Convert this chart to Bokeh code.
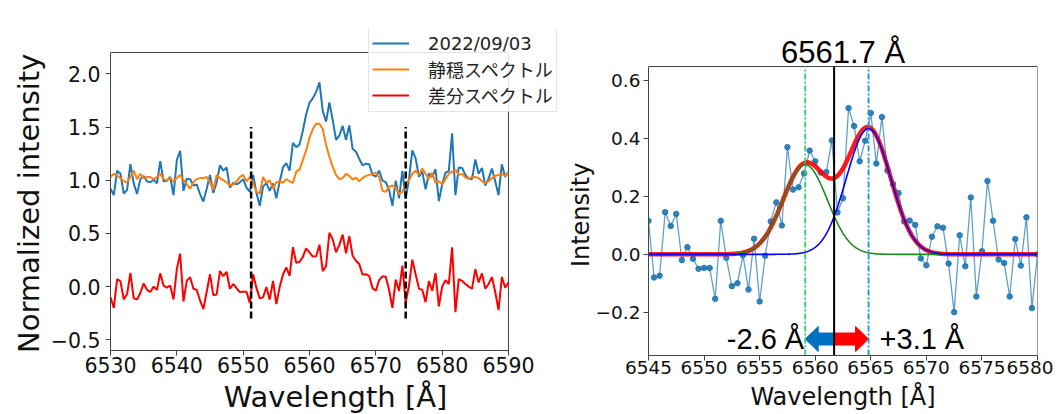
import numpy as np
from bokeh.plotting import figure
from bokeh.models import (Range1d, FixedTicker, Legend, LegendItem, Label)
from bokeh.layouts import row
from bokeh.embed import file_html
from bokeh.resources import INLINE

# ---------------- data ----------------
wl_start, wl_step = 6530.0, 0.5

observed = [
    0.92, 0.86, 1.09, 1.06, 0.875, 0.91, 1.15, 0.97, 0.87, 1.01,
    1.04, 0.99, 0.98, 1.005, 0.97, 1.18, 0.99, 0.995, 1.03, 0.86,
    1.19, 1.275, 0.90, 1.015, 1.01, 0.95, 0.96, 0.87, 0.80, 0.92,
    1.05, 0.88, 0.98, 1.14, 1.09, 1.12, 0.93, 0.975, 0.96, 0.98,
    1.01, 0.93, 0.89, 1.05, 0.88, 0.76, 0.94, 0.975, 0.90, 0.97,
    0.83, 0.985, 1.12, 1.16, 1.09, 1.35, 1.31, 1.335, 1.465, 1.62,
    1.73, 1.77, 1.83, 1.92, 1.65, 1.55, 1.73, 1.565, 1.38, 1.42,
    1.51, 1.38, 1.515, 1.295, 1.268, 1.20, 1.14, 1.155, 1.15, 1.05,
    1.035, 1.09, 0.997, 0.982, 0.908, 0.76, 0.996, 0.83, 1.087, 0.824,
    1.011, 1.28, 1.206, 1.032, 1.08, 0.914, 1.063, 1.031, 1.103, 0.804,
    0.96, 1.07, 1.085, 1.44, 0.86, 1.12, 1.115, 1.05, 1.015, 1.01,
    1.195, 1.06, 1.115, 0.95, 1.015, 1.11, 0.99, 0.86, 1.15, 1.03,
    1.08,
]

quiet = [
    1.03, 1.06, 1.04, 1.02, 0.99, 0.98, 1.03, 1.09, 1.01, 1.06,
    1.02, 1.03, 1.03, 1.01, 1.03, 1.06, 1.01, 1.00, 1.02, 0.99,
    1.02, 1.05, 1.00, 0.96, 0.92, 0.98, 1.01, 1.02, 1.02, 1.03,
    0.98, 0.91, 1.05, 1.02, 1.00, 0.98, 0.95, 0.96, 0.99, 1.03,
    1.05, 0.99, 1.03, 0.97, 0.89, 0.875, 1.03, 0.975, 1.00, 0.92,
    0.98, 0.99, 0.975, 1.01, 0.99, 0.975, 1.08, 1.10, 1.19, 1.28,
    1.40, 1.48, 1.53, 1.53, 1.48, 1.33, 1.22, 1.125, 1.05, 1.01,
    1.02, 1.06, 1.04, 1.005, 1.025, 0.99, 1.02, 1.04, 1.05, 1.06,
    1.07, 1.03, 0.90, 0.89, 0.94, 0.95, 0.93, 0.87, 0.89, 0.97,
    1.00, 1.06, 1.09, 1.05, 1.11, 1.06, 1.01, 1.07, 0.975, 0.99,
    0.96, 1.01, 1.06, 1.08, 1.10, 1.05, 1.06, 1.025, 1.015, 1.03,
    1.03, 1.02, 0.99, 0.97, 0.99, 1.02, 1.04, 1.05, 1.06, 1.04,
    1.07,
]

difference = [
    -0.10, -0.20, 0.07, 0.05, -0.12, -0.07, 0.13, -0.11, -0.12, -0.06,
    0.03, -0.03, -0.05, 0.00, -0.03, 0.125, 0.01, -0.01, 0.01, -0.12,
    0.165, 0.31, -0.14, 0.056, 0.09, -0.02, -0.03, -0.13, -0.21, -0.05,
    0.116, -0.08, -0.074, 0.146, 0.098, 0.14, -0.02, 0.025, -0.015, -0.05,
    -0.047, -0.047, -0.154, 0.116, -0.012, -0.11, -0.10, -0.003, -0.122, 0.054,
    -0.163, -0.005, 0.114, 0.18, 0.10, 0.371, 0.224, 0.232, 0.28, 0.359,
    0.322, 0.283, 0.285, 0.394, 0.145, 0.194, 0.506, 0.444, 0.322, 0.393,
    0.489, 0.314, 0.475, 0.29, 0.243, 0.212, 0.114, 0.117, 0.102, -0.014,
    -0.038, 0.061, 0.097, 0.092, -0.032, -0.20, 0.066, -0.041, 0.197, -0.146,
    0.011, 0.254, 0.116, -0.018, -0.03, -0.146, 0.053, -0.039, 0.128, -0.186,
    0.00, 0.06, 0.025, 0.37, -0.24, 0.07, 0.055, 0.025, 0.00, -0.02,
    0.165, 0.04, 0.125, -0.02, 0.025, 0.09, -0.05, -0.22, 0.09, -0.01,
    0.04,
]

wavelength = wl_start + wl_step * np.arange(len(difference))

series_labels = ["2022/09/03", "静穏スペクトル", "差分スペクトル"]

left_x_limits = (6530, 6590)
left_y_limits = (-0.6, 2.2)
left_x_ticks = [6530, 6540, 6550, 6560, 6570, 6580, 6590]
left_y_ticks = [-0.5, 0.0, 0.5, 1.0, 1.5, 2.0]
left_y_tick_labels = ["−0.5", "0.0", "0.5", "1.0", "1.5", "2.0"]
window_edges = [6551.2, 6574.5]
window_low, window_high = -0.3, 1.5

rest_wavelength = 6561.7
component_shift = [-2.6, 3.1]      # Å, relative to rest wavelength
component_amp = [0.31, 0.435]
component_sigma = [2.0, 2.0]
shift_labels = ["-2.6 Å", "+3.1 Å"]
title_text = "6561.7 Å"

right_x_limits = (6545, 6580)
right_y_limits = (-0.35, 0.65)
right_x_ticks = [6545, 6550, 6555, 6560, 6565, 6570, 6575, 6580]
right_y_ticks = [-0.2, 0.0, 0.2, 0.4, 0.6]
right_y_tick_labels = ["−0.2", "0.0", "0.2", "0.4", "0.6"]

# ---------------- style helpers ----------------
TICK_FONT = "DejaVu Sans"
LABEL_FONT = "DejaVu Sans"
LEGEND_FONT = "DejaVu Sans, Noto Sans CJK JP"
FRAME = "#444444"
NBSP = "\u00a0"


def style(p, tick_size, label_size, xstand, ystand, xl_stand, yl_stand):
    p.xgrid.visible = False
    p.ygrid.visible = False
    p.outline_line_color = None
    for ax in (p.xaxis[0], p.yaxis[0]):
        ax.axis_line_color = FRAME
        ax.major_tick_line_color = FRAME
        ax.major_tick_in = 0
        ax.major_tick_out = 5
        ax.minor_tick_in = 0
        ax.minor_tick_out = 0
        ax.major_label_text_font = TICK_FONT
        ax.major_label_text_font_size = tick_size
        ax.major_label_text_color = "#111111"
        ax.axis_label_text_font = LABEL_FONT
        ax.axis_label_text_font_size = label_size
        ax.axis_label_text_font_style = "normal"
        ax.axis_label_text_color = "#111111"
    p.xaxis[0].major_label_standoff = xstand
    p.yaxis[0].major_label_standoff = ystand
    p.xaxis[0].axis_label_standoff = xl_stand
    p.yaxis[0].axis_label_standoff = yl_stand


def spines(p, xlim, ylim):
    # top and right edges of the box (left/bottom are the axis lines)
    p.segment(x0=[xlim[0], xlim[1]], y0=[ylim[1], ylim[0]],
              x1=[xlim[1], xlim[1]], y1=[ylim[1], ylim[1]],
              line_color=FRAME, line_width=1)


# ---------------- left panel ----------------
# the plotting frame reaches above/right of the drawn box so the legend can overlap its corner
L_PX_X = 398 / (left_x_limits[1] - left_x_limits[0])
L_PX_Y = 298 / (left_y_limits[1] - left_y_limits[0])
p1 = figure(frame_width=450, frame_height=322,
            x_range=Range1d(left_x_limits[0], left_x_limits[0] + 450 / L_PX_X),
            y_range=Range1d(left_y_limits[0], left_y_limits[0] + 322 / L_PX_Y),
            output_backend="svg", toolbar_location=None,
            min_border_left=110, min_border_right=2, min_border_top=28, min_border_bottom=64)
style(p1, "20.5px", "29px", 1, 5, 4, 2)
p1.xaxis[0].ticker = FixedTicker(ticks=left_x_ticks)
p1.yaxis[0].ticker = FixedTicker(ticks=left_y_ticks)
p1.xaxis[0].bounds = left_x_limits
p1.yaxis[0].bounds = left_y_limits
p1.yaxis[0].major_label_overrides = dict(zip(left_y_ticks, left_y_tick_labels))
p1.xaxis[0].axis_label = "Wavelength [Å]"
p1.yaxis[0].axis_label = "Normalized intensity" + NBSP * 3
spines(p1, left_x_limits, left_y_limits)

r_obs = p1.line(wavelength, observed, line_color="#1f77b4", line_width=2)
r_quiet = p1.line(wavelength, quiet, line_color="#ff7f0e", line_width=2)
r_diff = p1.line(wavelength, difference, line_color="#ff0000", line_width=2)
p1.segment(x0=window_edges, y0=[window_low] * 2, x1=window_edges, y1=[window_high] * 2,
           line_color="black", line_width=2.5, line_dash="7 3")

legend = Legend(items=[LegendItem(label=series_labels[0], renderers=[r_obs]),
                       LegendItem(label=series_labels[1], renderers=[r_quiet]),
                       LegendItem(label=series_labels[2], renderers=[r_diff])],
                location=(258, 238))
legend.label_text_font = LEGEND_FONT
legend.label_text_font_size = "18px"
legend.label_text_color = "#222222"
legend.glyph_width = 37
legend.glyph_height = 26
legend.label_height = 26
legend.label_standoff = 19
legend.padding = 3
legend.spacing = 0
legend.margin = 0
legend.border_line_color = "#cccccc"
legend.border_line_width = 1
legend.background_fill_alpha = 0.85
p1.add_layout(legend)

# ---------------- right panel ----------------
R_PX_X = 389 / (right_x_limits[1] - right_x_limits[0])
R_PX_Y = 289 / (right_y_limits[1] - right_y_limits[0])
p2 = figure(frame_width=389, frame_height=327,
            x_range=Range1d(*right_x_limits),
            y_range=Range1d(right_y_limits[0], right_y_limits[0] + 327 / R_PX_Y),
            output_backend="svg", toolbar_location=None,
            min_border_left=86, min_border_right=16, min_border_top=28, min_border_bottom=59)
style(p2, "18.5px", "24px", 0, 3, 6, -2)
p2.xaxis[0].ticker = FixedTicker(ticks=right_x_ticks)
p2.yaxis[0].ticker = FixedTicker(ticks=right_y_ticks)
p2.xaxis[0].bounds = right_x_limits
p2.yaxis[0].bounds = right_y_limits
p2.yaxis[0].major_label_overrides = dict(zip(right_y_ticks, right_y_tick_labels))
p2.xaxis[0].axis_label = "Wavelength [Å]"
p2.yaxis[0].axis_label = "Intensity" + NBSP * 6
spines(p2, right_x_limits, right_y_limits)

# title over the box
p2.add_layout(Label(x=sum(right_x_limits) / 2, y=right_y_limits[1] + 14 / R_PX_Y,
                    text=title_text, text_align="center", text_baseline="alphabetic",
                    text_font="Liberation Sans", text_font_size="31px", text_color="black"))

# shift arrows (drawn in data units, sized in pixels)
arrow_y = -0.293
body_h, head_h, head_l = 6 / R_PX_Y, 12.5 / R_PX_Y, 13 / R_PX_X
centers = [rest_wavelength + s for s in component_shift]
arrow_fill = ["#0070c0", "#ff0000"]
for c, fc in zip(centers, arrow_fill):
    d = 1 if c > rest_wavelength else -1
    base = c - d * head_l
    xs = [rest_wavelength, base, base, c, base, base, rest_wavelength]
    ys = [arrow_y + body_h, arrow_y + body_h, arrow_y + head_h, arrow_y,
          arrow_y - head_h, arrow_y - body_h, arrow_y - body_h]
    p2.patch(xs, ys, fill_color=fc, line_color=fc, line_width=1)

# data
p2.line(wavelength, difference, line_color="#1f77b4", line_alpha=0.7, line_width=1.3)
p2.scatter(wavelength, difference, size=5.5, fill_color="#1f77b4", line_color="#1f77b4", alpha=0.9)

# gaussian fit model built from the fitted parameters
xf = np.linspace(right_x_limits[0], right_x_limits[1], 701)
comps = [a * np.exp(-(xf - c) ** 2 / (2 * s ** 2))
         for a, c, s in zip(component_amp, centers, component_sigma)]
p2.line(xf, comps[0] + comps[1], line_color="#ff0000", line_width=4.5, line_alpha=0.9)
p2.line(xf, comps[0], line_color="#1a8c1a", line_width=1.6)
p2.line(xf, comps[1], line_color="#0000ff", line_width=1.6)

# vertical markers: component centres (dash-dot) and rest wavelength (solid)
p2.segment(x0=centers, y0=[right_y_limits[0]] * 2, x1=centers, y1=[right_y_limits[1]] * 2,
           line_color=["#33cc66", "#1f8fe0"], line_width=1.8, line_dash="6 2 2 2")
p2.segment(x0=[rest_wavelength], y0=[right_y_limits[0]], x1=[rest_wavelength],
           y1=[right_y_limits[1]], line_color="black", line_width=2)

p2.add_layout(Label(x=centers[0], y=arrow_y, text=shift_labels[0], text_align="right",
                    text_baseline="middle", x_offset=-1, text_font="Liberation Sans",
                    text_font_size="29px", text_color="black"))
p2.add_layout(Label(x=centers[1], y=arrow_y, text=shift_labels[1], text_align="left",
                    text_baseline="middle", x_offset=11, text_font="Liberation Sans",
                    text_font_size="29px", text_color="black"))

layout = row(p1, p2)
open("out.html", "w").write(file_html(layout, INLINE))
